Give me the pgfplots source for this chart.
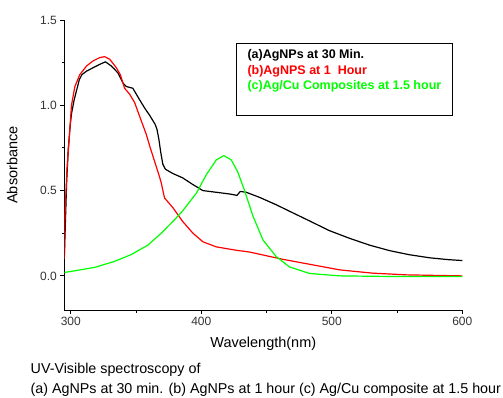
\documentclass[border=0pt]{standalone}
\usepackage{pgfplots}
\pgfplotsset{compat=1.18}
\usepackage{fontspec}
\setmainfont{Liberation Sans}
\definecolor{lgreen}{RGB}{0,255,0}
\definecolor{lred}{RGB}{255,0,0}
\begin{document}
\begin{tikzpicture}[x=1pt,y=1pt]
\useasboundingbox (0,0) rectangle (503,397);
\begin{axis}[
  at={(64.3pt,87pt)}, anchor=south west,
  scale only axis, width=398pt, height=290pt,
  xmin=295, xmax=600, ymin=-0.2, ymax=1.5,
  axis x line*=bottom, axis y line*=left,
  axis line style={line width=1pt},
  xtick={300,400,500,600}, minor xtick={350,450,550},
  ytick={0,0.5,1,1.5}, minor ytick={0.25,0.75,1.25},
  tick align=outside, major tick length=4pt, minor tick length=2.5pt,
  tick style={line width=1pt, black},
  y tick label style={/pgf/number format/fixed, /pgf/number format/fixed zerofill, /pgf/number format/precision=1},
  /pgf/number format/assume math mode=true,
  ticklabel style={font=\fontsize{12}{14}\selectfont, text=black!80},
  xlabel={Wavelength(nm)}, ylabel={Absorbance},
  label style={font=\fontsize{14.5}{16}\selectfont},
  xlabel style={at={(axis description cs:0.5,-0.115)}, anchor=center},
  ylabel style={at={(axis description cs:-0.131,0.5)}, anchor=center},
  every axis plot/.append style={line width=1.2pt, line join=round},
]
\addplot[black] coordinates {
(295,0.10)(295.8,0.30)(296.8,0.55)(298,0.74)(299.5,0.88)(300.5,0.95)(302.5,1.03)(304.5,1.09)(306.5,1.15)(308.5,1.18)(312,1.20)(317,1.22)(322.2,1.24)(326.5,1.255)(331.1,1.23)(336.1,1.19)(340,1.13)(342.5,1.11)(347.5,1.10)(352.5,1.035)(356.5,0.985)(360.5,0.94)(364.5,0.89)(366,0.86)(367.5,0.80)(369,0.72)(370.5,0.655)(372.5,0.625)(378.2,0.60)(385.6,0.575)(393.6,0.535)(401.2,0.50)(411.5,0.49)(421.8,0.48)(427.3,0.472)(429.9,0.495)(434.5,0.49)(444.7,0.46)(457.4,0.417)(470,0.37)(483,0.322)(498.2,0.265)(513.7,0.22)(529,0.18)(544.3,0.148)(559.4,0.124)(575,0.106)(589.5,0.095)(600,0.09)
};
\addplot[lred] coordinates {
(295,0.10)(295.5,0.35)(297,0.62)(298.7,0.80)(300.5,1.0)(303.1,1.11)(306.9,1.18)(312,1.23)(317,1.26)(322.2,1.28)(326,1.285)(329.8,1.27)(334.9,1.22)(337.9,1.18)(341.2,1.10)(345.1,1.065)(348.9,1.016)(352.5,0.94)(357.8,0.83)(360.9,0.75)(365.5,0.64)(368,0.58)(369.3,0.545)(371.8,0.457)(378.2,0.40)(385.6,0.32)(393.6,0.25)(401.2,0.20)(411.5,0.17)(426.9,0.15)(436.9,0.14)(449.9,0.118)(462.6,0.097)(483,0.068)(506.2,0.035)(531.3,0.016)(557.3,0.006)(600,0.0)
};
\addplot[lgreen] coordinates {
(295,0.02)(303.1,0.03)(318.3,0.05)(333.5,0.085)(346.3,0.125)(359,0.18)(369.3,0.25)(379.6,0.33)(385.6,0.38)(396.3,0.486)(403.9,0.594)(411.5,0.68)(417.2,0.705)(422.9,0.68)(427.9,0.61)(432.9,0.505)(439.6,0.35)(447.3,0.21)(457.4,0.113)(467.7,0.052)(483,0.014)(506.2,0.0)(550,-0.004)(600,-0.004)
};
\end{axis}
\draw[line width=0.8pt] (236.7,353.7) rectangle (452.3,282);
\node[anchor=west, inner sep=0, font=\bfseries\fontsize{12.5}{14}\selectfont] at (247.3,342) {(a)AgNPs at 30 Min.};
\node[anchor=west, inner sep=0, font=\bfseries\fontsize{12.5}{14}\selectfont, text=lred] at (247.3,325.3) {(b)AgNPS at 1\ \ Hour};
\node[anchor=west, inner sep=0, font=\bfseries\fontsize{12.5}{14}\selectfont, text=lgreen] at (247.3,310.3) {(c)Ag/Cu Composites at 1.5 hour};
\node[anchor=west, inner sep=0, font=\fontsize{14.3}{16}\selectfont] at (30.5,27) {UV-Visible spectroscopy of};
\node[anchor=west, inner sep=0, font=\fontsize{14.3}{16}\selectfont] at (30.5,7.7) {(a) AgNPs at 30 min. (b) AgNPs at 1 hour (c) Ag/Cu composite at 1.5 hour};
\end{tikzpicture}
\end{document}
